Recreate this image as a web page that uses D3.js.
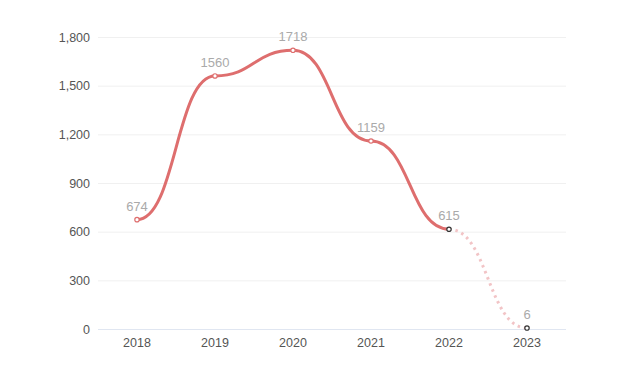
<!DOCTYPE html>
<html>
<head>
<meta charset="utf-8">
<script src="https://cdn.jsdelivr.net/npm/d3@7"></script>
<style>
  html, body { margin: 0; padding: 0; background: #fff; }
  svg text { font-family: "Liberation Sans", Arial, sans-serif; }
</style>
</head>
<body>
<svg id="chart" width="618" height="368"></svg>
<script>
const years = ["2018", "2019", "2020", "2021", "2022", "2023"];
const values = [674, 1560, 1718, 1159, 615, 6];
const yTicks = [0, 300, 600, 900, 1200, 1500, 1800];
const solidCount = 5; // last segment (2022 -> 2023) is dotted

const svg = d3.select("#chart");

const x = d3.scaleBand().domain(years).range([98, 566]);
const y = d3.scaleLinear().domain([0, 1800]).range([329, 37]);
const cx = d => x(d) + x.bandwidth() / 2;

const data = years.map((yr, i) => ({ year: yr, value: values[i], i }));

// gridlines
svg.append("g")
    .selectAll("line")
    .data(yTicks)
    .join("line")
    .attr("x1", 98)
    .attr("x2", 566)
    .attr("y1", d => y(d) + 0.5)
    .attr("y2", d => y(d) + 0.5)
    .attr("stroke", d => d === 0 ? "#e0e6f1" : "#f0f0f0")
    .attr("stroke-width", 1);

// y axis labels
const yAxis = svg.append("g")
    .attr("transform", "translate(90,0)")
    .call(d3.axisLeft(y).tickValues(yTicks).tickSize(0).tickPadding(0).tickFormat(d3.format(",")));
yAxis.select(".domain").remove();
yAxis.selectAll("text")
    .attr("fill", "#555")
    .attr("font-size", 12.5);

// x axis labels
const xAxis = svg.append("g")
    .attr("transform", "translate(0,338)")
    .call(d3.axisBottom(x).tickSize(0).tickPadding(0));
xAxis.select(".domain").remove();
xAxis.selectAll("text")
    .attr("fill", "#555")
    .attr("font-size", 12.5);

const line = d3.line()
    .x(d => cx(d.year))
    .y(d => y(d.value))
    .curve(d3.curveBumpX);

// dotted forecast segment
svg.append("path")
    .datum(data.slice(solidCount - 1))
    .attr("d", line)
    .attr("fill", "none")
    .attr("stroke", "#f2c4c6")
    .attr("stroke-width", 3)
    .attr("stroke-dasharray", "2.5 4");

// solid line
svg.append("path")
    .datum(data.slice(0, solidCount))
    .attr("d", line)
    .attr("fill", "none")
    .attr("stroke", "#de6e6e")
    .attr("stroke-width", 3)
    .attr("stroke-linejoin", "round");

// points
svg.append("g")
    .selectAll("circle")
    .data(data)
    .join("circle")
    .attr("cx", d => cx(d.year))
    .attr("cy", d => y(d.value))
    .attr("r", 2.2)
    .attr("fill", "#fff")
    .attr("stroke", d => d.i >= solidCount - 1 ? "#333" : "#de6e6e")
    .attr("stroke-width", 1.2);

// value labels
svg.append("g")
    .selectAll("text")
    .data(data)
    .join("text")
    .attr("x", d => cx(d.year))
    .attr("y", d => y(d.value) - 9)
    .attr("text-anchor", "middle")
    .attr("fill", "#aaa")
    .attr("font-size", 13)
    .text(d => d.value);
</script>
</body>
</html>
